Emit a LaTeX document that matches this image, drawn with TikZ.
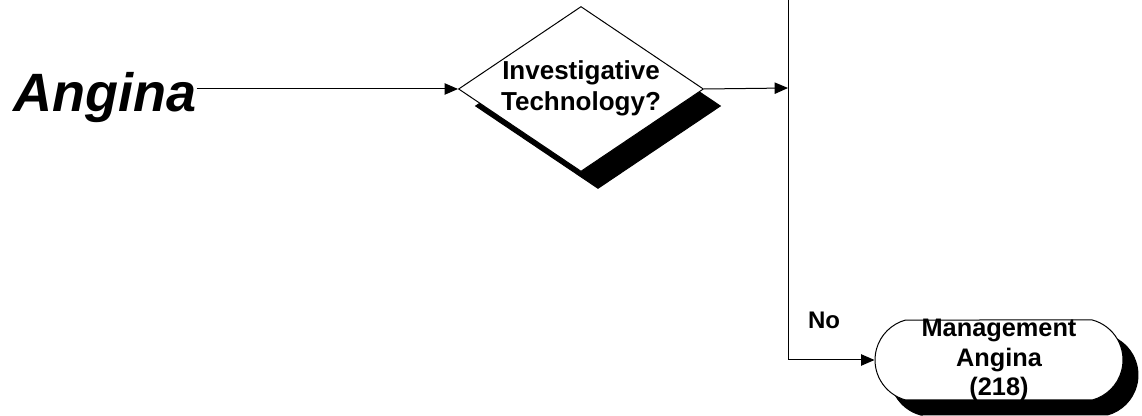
\documentclass[tikz,border=0pt]{standalone}
\usepackage{fontspec}
\setmainfont{Liberation Sans}
\usetikzlibrary{shapes.geometric,shapes.misc,arrows.meta}

\tikzset{
  flow/.style={draw, line width=0.75pt, -{Triangle[length=10pt,width=8.5pt]}},
  decision/.style={diamond, draw, line width=0.75pt, fill=white, inner sep=0pt, minimum width=183.75pt, minimum height=123.75pt},
  terminal/.style={rounded rectangle, rounded rectangle arc length=150, draw, line width=0.75pt, fill=white, inner sep=0pt, minimum width=186pt, minimum height=60pt},
  shadowfill/.style={fill=black, draw=black},
  boxtext/.style={align=center, inner sep=0pt, font=\bfseries\fontsize{19.5}{23.25}\selectfont},
}

\begin{document}
\begin{tikzpicture}[x=0.75pt,y=0.75pt,yscale=-1,xscale=1]
	\useasboundingbox (0,0) rectangle (1142,416);
	% shadows first, shapes on top
	\node [decision, shadowfill] (askShadow) at (598,106) {};
	\node [terminal, shadowfill] (mgmtShadow) at (1014,375) {};
	\node [decision] (ask) at (581,89) {};
	\node [terminal] (mgmt) at (999,360) {};

	\node [anchor=base west, inner sep=0pt, font=\bfseries\itshape\fontsize{40.5}{48}\selectfont] (title) at (13,112) {Angina};
	\node [boxtext] (askText) at (581,88) {Investigative\\Technology?};
	\node [boxtext, font=\bfseries\fontsize{19}{22}\selectfont] (mgmtText) at (999,360) {Management\\Angina\\(218)};
	\node [anchor=base, inner sep=0pt, font=\bfseries\fontsize{18}{21}\selectfont] (noLabel) at (824,329) {No};

	\coordinate (busTop) at (788,0);
	\coordinate (busIn) at (788,88);
	\draw [flow] (title.east |- ask.west) -- (ask.west);
	\draw [flow] (ask.east) -- (busIn);
	\draw [flow] (busTop) |- (mgmt.west);
\end{tikzpicture}
\end{document}
